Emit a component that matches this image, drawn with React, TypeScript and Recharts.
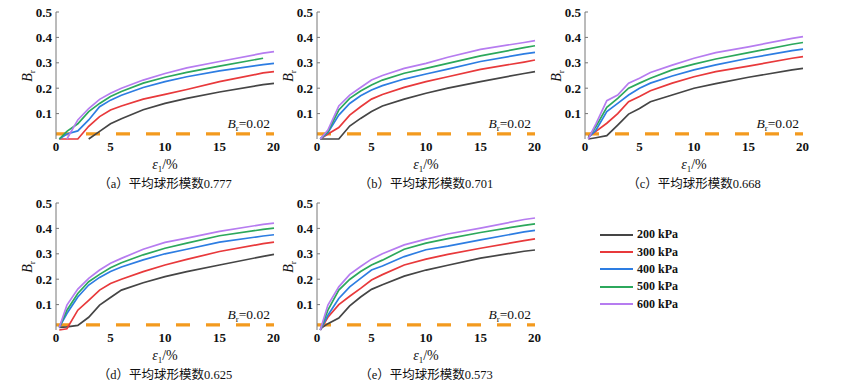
import React from "react";
import { LineChart, Line, XAxis, YAxis, ReferenceLine } from "recharts";

const STRAIN = [0.3, 1, 2, 3, 4, 5, 6, 8, 10, 12, 15, 19, 20];
const Y_TICKS = [0.1, 0.2, 0.3, 0.4, 0.5];
const X_TICKS = [0, 5, 10, 15, 20];
const PRESSURES = ["200 kPa", "300 kPa", "400 kPa", "500 kPa", "600 kPa"];
const COLORS = ["#454545", "#e8393b", "#2d7de2", "#2ca85c", "#b67cf0"];
const THRESHOLD = 0.02;

// (a) 0.777
const A_200 = [null, null, null, 0, 0.03, 0.06, 0.08, 0.115, 0.14, 0.16, 0.185, 0.214, 0.219];
const A_300 = [0, 0, 0, 0.05, 0.088, 0.114, 0.13, 0.157, 0.176, 0.195, 0.226, 0.26, 0.265];
const A_400 = [0, 0.02, 0.032, 0.075, 0.127, 0.153, 0.172, 0.203, 0.226, 0.245, 0.268, 0.293, 0.298];
const A_500 = [0, 0.03, 0.06, 0.108, 0.14, 0.167, 0.187, 0.22, 0.243, 0.262, 0.287, 0.318, null];
const A_600 = [null, 0, 0.075, 0.12, 0.156, 0.18, 0.2, 0.232, 0.258, 0.28, 0.305, 0.338, 0.344];

// (b) 0.701
const B_200 = [0, 0, 0, 0.051, 0.081, 0.108, 0.13, 0.157, 0.18, 0.2, 0.226, 0.258, 0.265];
const B_300 = [0, 0.02, 0.045, 0.094, 0.127, 0.157, 0.175, 0.203, 0.226, 0.245, 0.274, 0.303, 0.311];
const B_400 = [0, 0.025, 0.094, 0.14, 0.17, 0.193, 0.21, 0.236, 0.256, 0.275, 0.305, 0.335, 0.341];
const B_500 = [0, 0.03, 0.114, 0.16, 0.189, 0.213, 0.232, 0.259, 0.278, 0.298, 0.327, 0.36, 0.367];
const B_600 = [0, 0.035, 0.13, 0.173, 0.203, 0.232, 0.25, 0.278, 0.298, 0.322, 0.353, 0.38, 0.387];

// (c) 0.668
const C_200 = [0, 0.005, 0.013, 0.055, 0.098, 0.12, 0.147, 0.173, 0.2, 0.218, 0.243, 0.272, 0.278];
const C_300 = [0.01, 0.03, 0.062, 0.1, 0.147, 0.167, 0.19, 0.22, 0.245, 0.265, 0.287, 0.318, 0.324];
const C_400 = [0.005, 0.035, 0.108, 0.14, 0.173, 0.2, 0.22, 0.248, 0.272, 0.292, 0.318, 0.348, 0.354];
const C_500 = [0.005, 0.049, 0.125, 0.16, 0.2, 0.22, 0.239, 0.272, 0.295, 0.315, 0.34, 0.373, 0.38];
const C_600 = [0, 0.06, 0.151, 0.173, 0.22, 0.239, 0.262, 0.291, 0.318, 0.34, 0.363, 0.396, 0.403];

// (d) 0.625
const D_200 = [0.01, 0.012, 0.018, 0.05, 0.098, 0.128, 0.157, 0.186, 0.21, 0.23, 0.256, 0.29, 0.298];
const D_300 = [0, 0.005, 0.078, 0.117, 0.157, 0.183, 0.2, 0.23, 0.256, 0.278, 0.309, 0.34, 0.346];
const D_400 = [0.01, 0.065, 0.13, 0.177, 0.207, 0.23, 0.248, 0.276, 0.3, 0.318, 0.346, 0.37, 0.375];
const D_500 = [0.01, 0.078, 0.144, 0.19, 0.219, 0.245, 0.265, 0.296, 0.322, 0.342, 0.371, 0.396, 0.401];
const D_600 = [0.01, 0.098, 0.161, 0.203, 0.236, 0.263, 0.282, 0.318, 0.345, 0.362, 0.388, 0.416, 0.421];

// (e) 0.573
const E_200 = [0.005, 0.025, 0.047, 0.095, 0.13, 0.16, 0.178, 0.212, 0.236, 0.255, 0.283, 0.31, 0.315];
const E_300 = [0, 0.05, 0.1, 0.133, 0.164, 0.197, 0.218, 0.256, 0.279, 0.298, 0.322, 0.352, 0.359];
const E_400 = [0, 0.058, 0.124, 0.17, 0.203, 0.236, 0.252, 0.289, 0.316, 0.33, 0.355, 0.386, 0.392];
const E_500 = [0, 0.078, 0.157, 0.199, 0.23, 0.256, 0.275, 0.318, 0.342, 0.36, 0.384, 0.412, 0.418];
const E_600 = [0, 0.098, 0.17, 0.219, 0.25, 0.279, 0.3, 0.335, 0.358, 0.378, 0.401, 0.435, 0.441];

const CAPTIONS = [
  "（a）平均球形模数0.777",
  "（b）平均球形模数0.701",
  "（c）平均球形模数0.668",
  "（d）平均球形模数0.625",
  "（e）平均球形模数0.573",
];

const PANEL_SERIES = [
  [A_200, A_300, A_400, A_500, A_600],
  [B_200, B_300, B_400, B_500, B_600],
  [C_200, C_300, C_400, C_500, C_600],
  [D_200, D_300, D_400, D_500, D_600],
  [E_200, E_300, E_400, E_500, E_600],
];

// chart box origin for each panel (plot starts 56px right / 10px below)
const POSITIONS = [
  { left: 0, top: 2 },
  { left: 261, top: 2 },
  { left: 529, top: 2 },
  { left: 0, top: 193 },
  { left: 261, top: 193 },
];

const SERIF = "'Liberation Serif', 'Times New Roman', serif";
const CJK = "'Liberation Serif', 'Noto Sans CJK SC', serif";

const W = 280;
const H = 180;
const Y_W = 56;
const PLOT_W = 218;
const PLOT_H = 127;
const TOP = 10;

function buildRows(series: (number | null)[][]) {
  return STRAIN.map((e, i) => {
    const row: Record<string, number | null> = { e };
    series.forEach((s, k) => {
      row["p" + k] = s[i];
    });
    return row;
  });
}

const tickStyle = { fontFamily: SERIF, fontSize: 13, fontWeight: 700, fill: "#111" };

function ThresholdLabel(props: any) {
  const vb = props.viewBox || {};
  return (
    <text
      x={vb.x + vb.width - 4}
      y={vb.y - 6}
      textAnchor="end"
      fontFamily={SERIF}
      fontSize={13.5}
      fill="#111"
    >
      <tspan fontStyle="italic">B</tspan>
      <tspan fontSize={9} dy={3}>r</tspan>
      <tspan dy={-3}>=0.02</tspan>
    </text>
  );
}

function Panel({ idx }: { idx: number }) {
  const rows = buildRows(PANEL_SERIES[idx]);
  const pos = POSITIONS[idx];
  return (
    <div style={{ position: "absolute", left: pos.left, top: pos.top, width: W, height: H + 20 }}>
      <LineChart width={W} height={H} data={rows} margin={{ top: TOP, right: W - Y_W - PLOT_W, left: 0, bottom: 0 }}>
        <XAxis
          dataKey="e"
          type="number"
          domain={[0, 20]}
          ticks={X_TICKS}
          axisLine={false}
          tickLine={false}
          tickSize={0}
          tickMargin={3}
          tick={tickStyle}
          height={H - TOP - PLOT_H}
        />
        <YAxis
          type="number"
          domain={[0, 0.5]}
          ticks={Y_TICKS}
          width={Y_W}
          stroke="#777"
          tickSize={-3}
          tickMargin={7}
          tick={tickStyle}
          tickFormatter={(v: number) => v.toFixed(1)}
        />
        <ReferenceLine
          y={THRESHOLD}
          stroke="#f39a1e"
          strokeWidth={3.2}
          strokeDasharray="14 16"
          label={<ThresholdLabel />}
        />
        {PRESSURES.map((p, k) => (
          <Line
            key={p}
            dataKey={"p" + k}
            name={p}
            type="linear"
            stroke={COLORS[k]}
            strokeWidth={1.7}
            dot={false}
            isAnimationActive={false}
          />
        ))}
      </LineChart>
      <div
        style={{
          position: "absolute",
          left: Y_W - 28 - 20,
          top: TOP + PLOT_H / 2 - 10,
          width: 40,
          height: 20,
          lineHeight: "20px",
          textAlign: "center",
          transform: "rotate(-90deg)",
          fontFamily: SERIF,
          fontSize: 14,
          color: "#111",
        }}
      >
        <i>B</i>
        <span style={{ fontSize: 9, verticalAlign: -3 }}>r</span>
      </div>
      <div
        style={{
          position: "absolute",
          left: Y_W,
          top: TOP + PLOT_H + 18,
          width: PLOT_W,
          lineHeight: "16px",
          textAlign: "center",
          fontFamily: SERIF,
          fontSize: 14,
          color: "#111",
        }}
      >
        <i>ε</i>
        <span style={{ fontSize: 9, verticalAlign: -3 }}>1</span>/%
      </div>
      <div
        style={{
          position: "absolute",
          left: Y_W,
          top: TOP + PLOT_H + 37,
          width: PLOT_W,
          lineHeight: "16px",
          textAlign: "center",
          fontFamily: CJK,
          fontSize: 12.5,
          color: "#111",
        }}
      >
        {CAPTIONS[idx]}
      </div>
    </div>
  );
}

function FigureLegend() {
  return (
    <div style={{ position: "absolute", left: 598, top: 226 }}>
      {PRESSURES.map((p, k) => (
        <div key={p} style={{ display: "flex", alignItems: "center", height: 17.4 }}>
          <svg width={36} height={6}>
            <line x1={2} y1={3} x2={35} y2={3} stroke={COLORS[k]} strokeWidth={2} />
          </svg>
          <span style={{ marginLeft: 3, fontFamily: SERIF, fontSize: 12, fontWeight: 700, color: "#111" }}>{p}</span>
        </div>
      ))}
    </div>
  );
}

export default function App() {
  return (
    <div style={{ position: "absolute", left: 0, top: 0, width: 843, height: 389, background: "#fff" }}>
      {CAPTIONS.map((c, i) => (
        <Panel key={c} idx={i} />
      ))}
      <FigureLegend />
    </div>
  );
}
